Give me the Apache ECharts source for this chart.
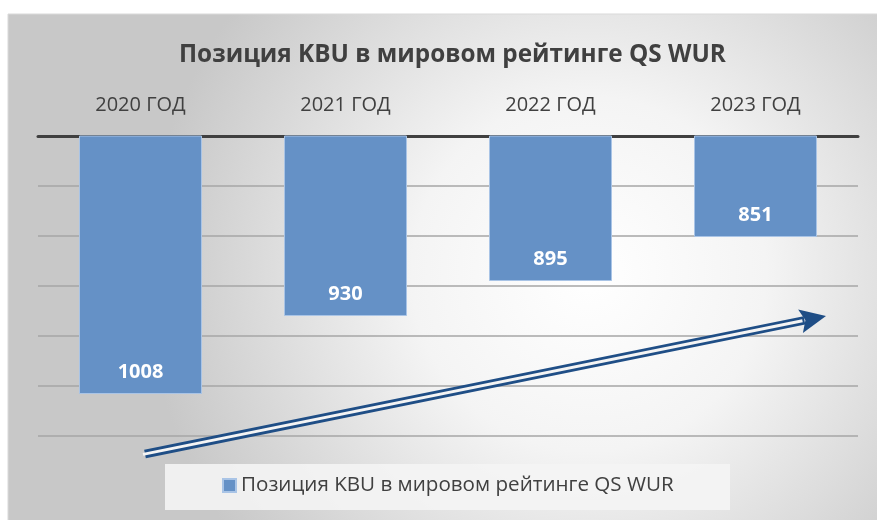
<!DOCTYPE html>
<html><head><meta charset="utf-8">
<script src="https://cdn.jsdelivr.net/npm/echarts@6/dist/echarts.min.js"></script>
<style>html,body{margin:0;padding:0;background:#fff}#c{width:877px;height:520px}</style>
</head><body><div id="c"></div>
<script>
const titleText = 'Позиция KBU в мировом рейтинге QS WUR';
const seriesName = 'Позиция KBU в мировом рейтинге QS WUR';
const categories = ['2020 ГОД', '2021 ГОД', '2022 ГОД', '2023 ГОД'];
const values = [1008, 930, 895, 851];
const yMin = 750, yMax = 1050, yStep = 50;

const FONT = '"Open Sans", sans-serif';
const chart = echarts.init(document.getElementById('c'));

// arrow geometry (decoration)
const ax1 = 145, ay1 = 454, ax2 = 826, ay2 = 316;
const ang = Math.atan2(ay2 - ay1, ax2 - ax1);
const headLen = 26, headW = 12;
const bx = ax2 - headLen * Math.cos(ang), by = ay2 - headLen * Math.sin(ang);
const nx = -Math.sin(ang), ny = Math.cos(ang);

chart.setOption({
  animation: false,
  textStyle: { fontFamily: FONT },
  title: {
    text: titleText, left: 174, top: 38,
    textStyle: { fontFamily: FONT, fontSize: 24.3, fontWeight: 'bold', color: '#404040' }
  },
  graphic: [
    { type: 'rect', z: -100, shape: { x: 8, y: 14, width: 880, height: 520 },
      style: { fill: { type: 'radial', x: 0.66, y: 0.5, r: 0.85,
        colorStops: [{ offset: 0, color: '#ffffff' }, { offset: 0.4, color: '#f4f4f4' }, { offset: 1, color: '#c8c8c8' }] },
        stroke: '#d9d9d9', lineWidth: 1 } },
    { type: 'rect', z: -50, shape: { x: 165, y: 464, width: 565, height: 46 },
      style: { fill: 'rgba(244,244,244,0.9)' } },
    { type: 'line', z: 100, shape: { x1: ax1, y1: ay1, x2: bx + 4 * Math.cos(ang), y2: by + 4 * Math.sin(ang) },
      style: { stroke: '#1f4e86', lineWidth: 8.5 } },
    { type: 'line', z: 101, shape: { x1: ax1 - 2, y1: ay1 + 0.4, x2: bx + 2 * Math.cos(ang), y2: by + 2 * Math.sin(ang) },
      style: { stroke: '#f4f4f4', lineWidth: 3 } },
    { type: 'polygon', z: 102, shape: { points: [[ax2, ay2], [bx + nx * headW, by + ny * headW], [bx + 5*Math.cos(ang), by + 5*Math.sin(ang)], [bx - nx * headW, by - ny * headW]] },
      style: { fill: '#1f4e86' } }
  ],
  legend: {
    bottom: 19, left: 217, icon: 'rect', itemWidth: 13, itemHeight: 13, itemGap: 6,
    textStyle: { fontFamily: FONT, fontSize: 20.6, color: '#404040' },
    data: [seriesName]
  },
  grid: { left: 38, right: 19, top: 136, bottom: 84 },
  xAxis: {
    type: 'category', position: 'top', data: categories,
    axisLine: { lineStyle: { color: '#404040', width: 3 } },
    axisTick: { show: false },
    axisLabel: { margin: 21, fontFamily: FONT, fontSize: 20, color: '#404040' }
  },
  yAxis: {
    type: 'value', inverse: true, min: yMin, max: yMax, interval: yStep,
    axisLine: { show: false }, axisTick: { show: false }, axisLabel: { show: false },
    splitLine: { lineStyle: { color: '#a6a6a6', width: 1.5 } }
  },
  series: [{
    name: seriesName, type: 'bar', data: values, barCategoryGap: '40%',
    itemStyle: { color: '#6591c6', borderColor: '#a9c4e6', borderWidth: 1 },
    label: { show: true, position: 'insideBottom', distance: 12,
      fontFamily: FONT, fontSize: 20, fontWeight: 'bold', color: '#ffffff' }
  }]
});
</script></body></html>
